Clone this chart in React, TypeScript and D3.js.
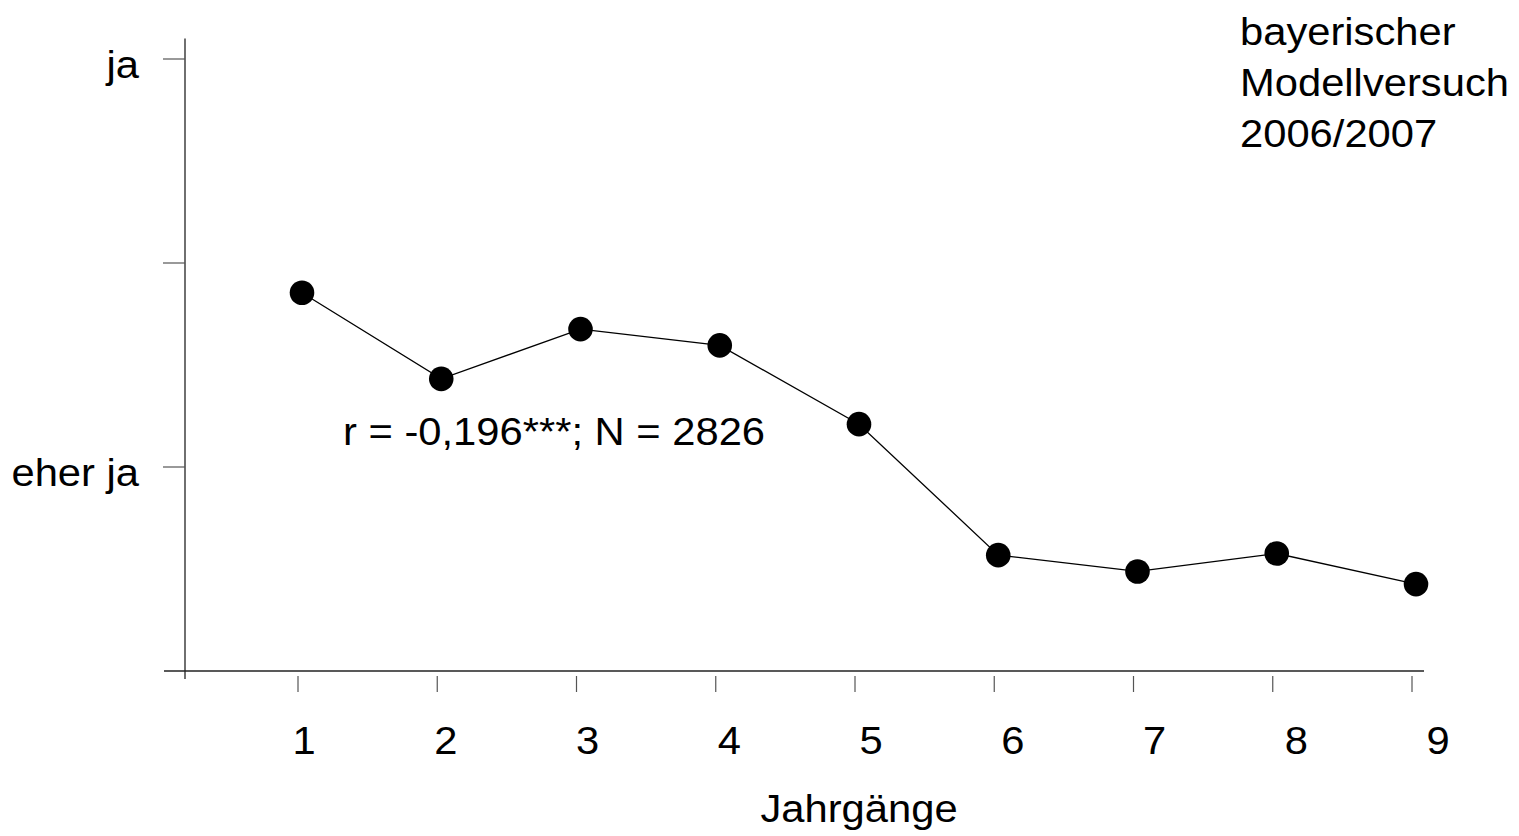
import React, { useEffect, useRef } from "react"
import * as d3 from "d3"

// Jahrgänge 1..9, Mittelwerte (1 = ja, 2 = eher ja)
const jahrgaenge = [1, 2, 3, 4, 5, 6, 7, 8, 9]
const mittelwerte = [1.573, 1.784, 1.662, 1.702, 1.895, 2.216, 2.256, 2.212, 2.287]
const yTickValues = [1, 1.5, 2, 2.5]
const yTickLabels = ["ja", "", "eher ja", ""]
const xTickLabels = ["1", "2", "3", "4", "5", "6", "7", "8", "9"]
const titleLines = ["bayerischer", "Modellversuch", "2006/2007"]
const annotation = "r = -0,196***; N = 2826"
const xTitle = "Jahrgänge"

const W = 1519
const H = 836
const FONT = "'Liberation Sans', Arial, Helvetica, sans-serif"
const FS = 39
const SX = 1.07 // text in the original is slightly stretched horizontally

export default function App() {
  const ref = useRef<SVGSVGElement>(null)

  useEffect(() => {
    const svg = d3.select(ref.current)
    svg.selectAll("*").remove()

    const x = d3.scaleLinear().domain([1, 9]).range([302, 1416])
    const xLabel = d3.scaleLinear().domain([1, 9]).range([304, 1438])
    const y = d3.scaleLinear().domain([1, 2]).range([59, 467])

    const axisY = y(2.5)
    const axisX = 185

    const txt = (g: any, s: string, tx: number, ty: number, anchor: string) =>
      g
        .append("text")
        .attr("transform", `translate(${tx},${ty}) scale(${SX},1)`)
        .attr("text-anchor", anchor)
        .attr("font-family", FONT)
        .attr("font-size", FS)
        .attr("fill", "#000")
        .text(s)

    // axes
    const axes = svg.append("g").attr("stroke", "#222").attr("fill", "none")
    axes
      .append("line")
      .attr("x1", axisX)
      .attr("x2", axisX)
      .attr("y1", y(0.95))
      .attr("y2", axisY + 8)
      .attr("stroke-width", 1.3)
    axes
      .append("line")
      .attr("x1", 164)
      .attr("x2", 1424)
      .attr("y1", axisY)
      .attr("y2", axisY)
      .attr("stroke-width", 1.6)

    // y ticks
    axes
      .selectAll("line.yt")
      .data(yTickValues.slice(0, 3))
      .join("line")
      .attr("class", "yt")
      .attr("x1", 163)
      .attr("x2", axisX)
      .attr("y1", d => y(d))
      .attr("y2", d => y(d))
      .attr("stroke", "#555")
      .attr("stroke-width", 1.2)

    // x ticks
    axes
      .selectAll("line.xt")
      .data(jahrgaenge)
      .join("line")
      .attr("class", "xt")
      .attr("x1", d => x(d) - 4)
      .attr("x2", d => x(d) - 4)
      .attr("y1", axisY + 5)
      .attr("y2", axisY + 21)
      .attr("stroke", "#555")
      .attr("stroke-width", 1.2)

    const labels = svg.append("g")
    yTickValues.forEach((v, i) => {
      if (yTickLabels[i]) txt(labels, yTickLabels[i], 139, y(v) + 19, "end")
    })
    jahrgaenge.forEach((d, i) => txt(labels, xTickLabels[i], xLabel(d), 754, "middle"))
    txt(labels, xTitle, 859, 822, "middle")
    txt(labels, annotation, 343, 445, "start")
    titleLines.forEach((s, i) => txt(labels, s, 1240, 45 + i * 51, "start"))

    // line + points
    const line = d3
      .line<number>()
      .x((_, i) => x(jahrgaenge[i]))
      .y(d => y(d))

    svg
      .append("path")
      .datum(mittelwerte)
      .attr("d", line)
      .attr("fill", "none")
      .attr("stroke", "#000")
      .attr("stroke-width", 1.3)

    svg
      .append("g")
      .selectAll("circle")
      .data(mittelwerte)
      .join("circle")
      .attr("cx", (_, i) => x(jahrgaenge[i]))
      .attr("cy", d => y(d))
      .attr("r", 12.3)
      .attr("fill", "#000")
  }, [])

  return (
    <svg
      ref={ref}
      width={W}
      height={H}
      style={{ position: "absolute", left: 0, top: 0, background: "#fff" }}
    />
  )
}
